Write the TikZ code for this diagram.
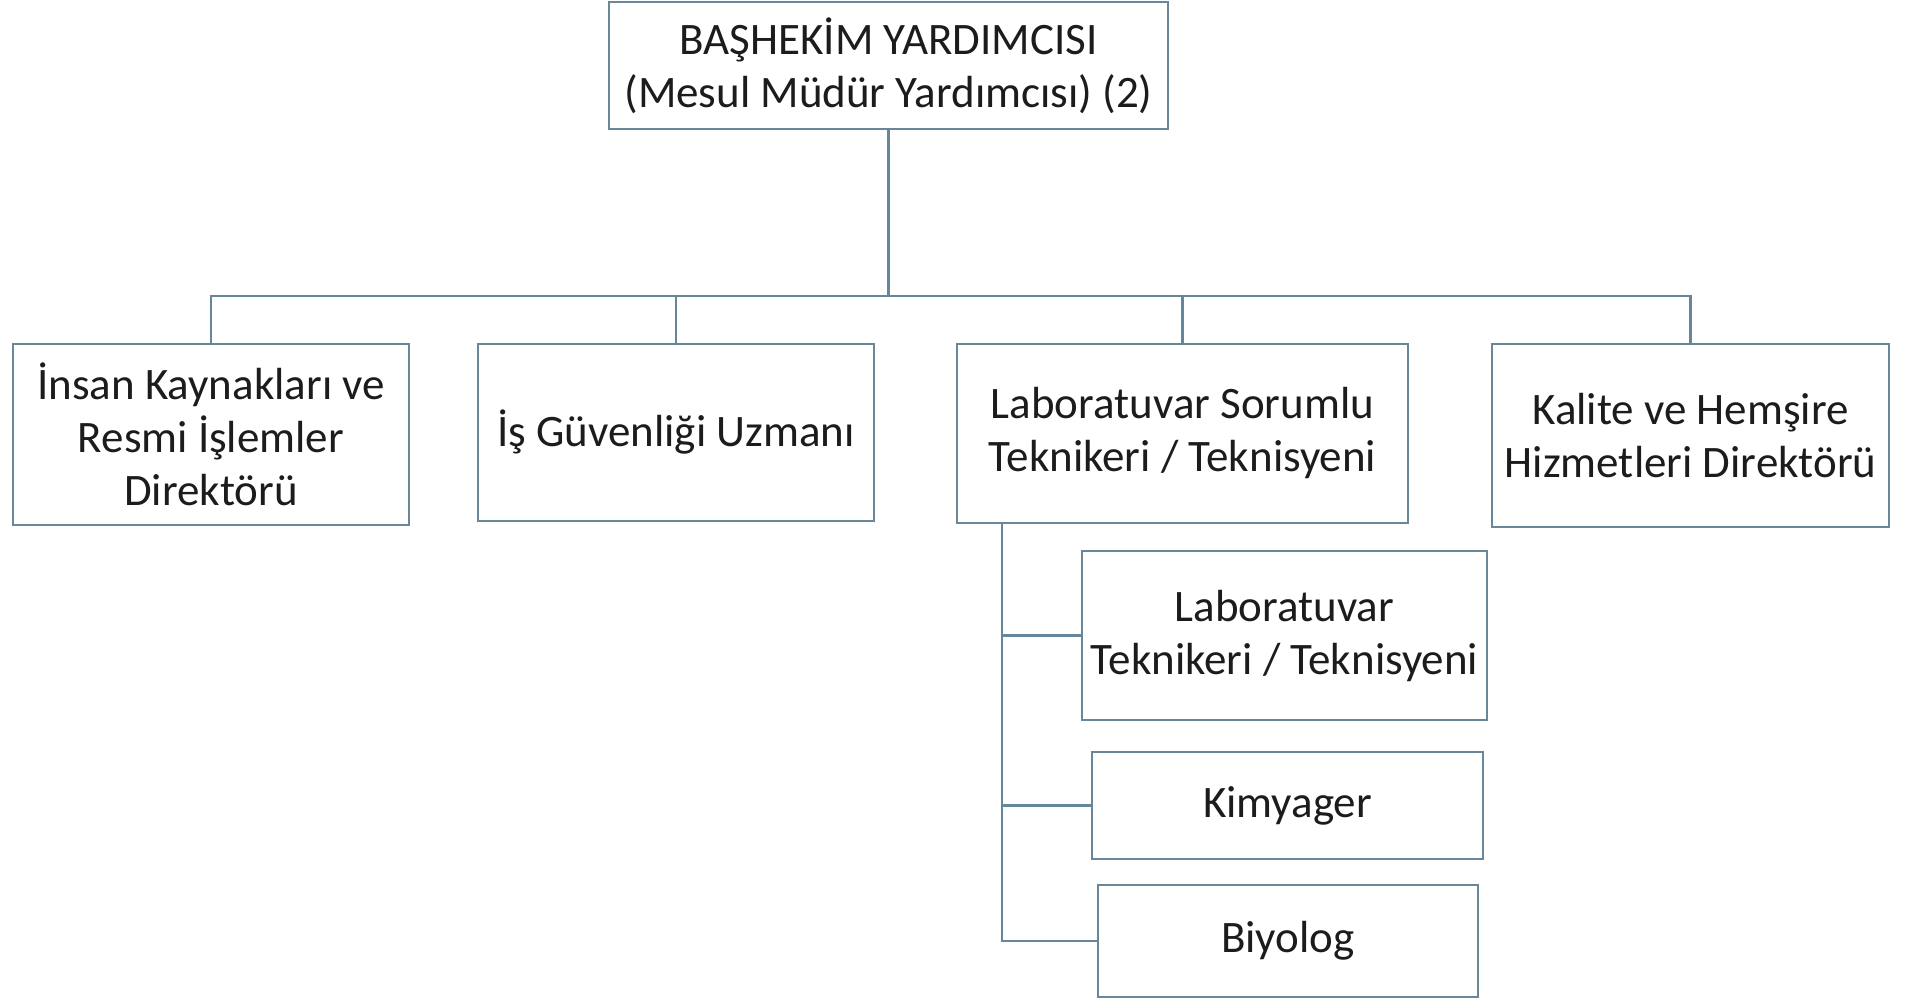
\documentclass[tikz,border=0pt]{standalone}
\usepackage{fontspec}
\setmainfont{Carlito}
\usetikzlibrary{positioning}

\definecolor{boxline}{HTML}{6A8799}
\definecolor{linkline}{HTML}{66869A}
\definecolor{textdark}{HTML}{1C1C1C}

\begin{document}
\begin{tikzpicture}[x=0.5pt, y=-0.5pt,
    unit/.style={draw=boxline, line width=1pt, fill=white, inner sep=0pt,
      align=center, text=textdark, font=\fontsize{22.5}{26.5}\selectfont},
    conn/.style={draw=linkline, line width=1.1pt}]
    \useasboundingbox (0,0) rectangle (1907,1000);

    \node[unit, minimum width=279.5pt, minimum height=63.5pt] (top) at (888.5,65.5)
        {BAŞHEKİM YARDIMCISI\\(Mesul Müdür Yardımcısı) (2)};

    \node[unit, minimum width=198pt, minimum height=90.5pt] (ik) at (211,434.5)
        {İnsan Kaynakları ve\\Resmi İşlemler\\Direktörü};
    \node[unit, minimum width=198pt, minimum height=88.5pt] (isg) at (676,432.5)
        {İş Güvenliği Uzmanı};
    \node[unit, minimum width=225.5pt, minimum height=89.5pt] (labsor) at (1182.5,433.5)
        {Laboratuvar Sorumlu\\Teknikeri / Teknisyeni};
    \node[unit, minimum width=198.5pt, minimum height=91.5pt] (kalite) at (1690.5,435.5)
        {Kalite ve Hemşire\\Hizmetleri Direktörü};

    \node[unit, minimum width=202.5pt, minimum height=84.5pt] (labtek) at (1284.5,635.5)
        {Laboratuvar\\Teknikeri / Teknisyeni};
    \node[unit, minimum width=195.5pt, minimum height=53.5pt] (kimya) at (1287.5,805.5)
        {Kimyager};
    \node[unit, minimum width=190pt, minimum height=56pt] (biyo) at (1288,941)
        {Biyolog};

    % tree links
    \coordinate (bar) at (888.5,296);
    \draw[conn] (top.south) -- (bar);
    \draw[conn] (ik.north) |- (bar) -| (kalite.north);
    \draw[conn] (isg.north) -- (isg.north |- bar);
    \draw[conn] (labsor.north) -- (labsor.north |- bar);

    \coordinate (lab) at ([xshift=23pt]labsor.south west);
    \draw[conn] (lab) |- (biyo.west);
    \draw[conn] (lab |- labtek.west) -- (labtek.west);
    \draw[conn] (lab |- kimya.west) -- (kimya.west);
\end{tikzpicture}
\end{document}
